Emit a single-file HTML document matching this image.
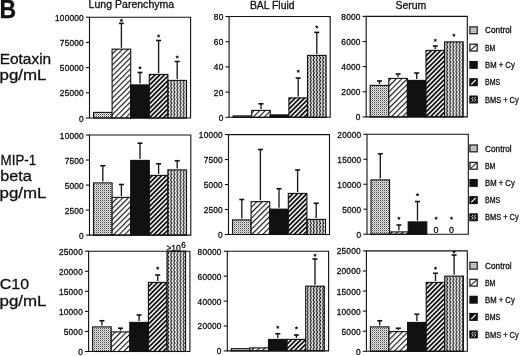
<!DOCTYPE html><html><head><meta charset="utf-8"><style>html,body{margin:0;padding:0;background:#fff;}body{width:520px;height:356px;overflow:hidden;}svg{display:block;filter:grayscale(1);}text{font-family:"Liberation Sans", sans-serif;fill:#111;stroke:#111;stroke-width:0.3px;}</style></head><body>
<svg width="520" height="356" viewBox="0 0 520 356">
<defs>
<pattern id="pc" patternUnits="userSpaceOnUse" width="2" height="2"><rect width="2" height="2" fill="#e8e8e8"/><rect x="0" y="0" width="1" height="1" fill="#444"/><rect x="1" y="1" width="1" height="1" fill="#aaa"/></pattern>
<pattern id="pbm" patternUnits="userSpaceOnUse" width="3.9" height="10" patternTransform="rotate(45)"><rect width="3.9" height="10" fill="#fff"/><rect x="0" y="0" width="1.1" height="10" fill="#111"/></pattern>
<pattern id="pbms" patternUnits="userSpaceOnUse" width="3.3" height="10" patternTransform="rotate(45)"><rect width="3.3" height="10" fill="#fff"/><rect x="0" y="0" width="1.8" height="10" fill="#111"/></pattern>
<pattern id="pz" patternUnits="userSpaceOnUse" width="3.1" height="3.75"><rect width="3.1" height="3.75" fill="#fff"/><path d="M-0.2,-0.1 L1.5,1.875 L-0.2,3.85 M2.9,-0.1 L4.6,1.875 L2.9,3.85" stroke="#111" stroke-width="1.1" fill="none"/></pattern>
</defs>
<text x="-0.4" y="18" font-size="25" font-weight="bold" textLength="16.6" lengthAdjust="spacingAndGlyphs">B</text>
<text x="88.6" y="7.9" font-size="10.4" textLength="85.6" lengthAdjust="spacingAndGlyphs">Lung Parenchyma</text>
<text x="249.9" y="8.6" font-size="10.4" textLength="44.6" lengthAdjust="spacingAndGlyphs">BAL Fluid</text>
<text x="395.4" y="8.9" font-size="10.6" textLength="30.9" lengthAdjust="spacingAndGlyphs">Serum</text>
<text x="-0.3" y="63.6" font-size="15.2" textLength="51.5" lengthAdjust="spacingAndGlyphs">Eotaxin</text>
<text x="-0.5" y="79.8" font-size="15.2" textLength="47.0" lengthAdjust="spacingAndGlyphs">pg/mL</text>
<text x="0.6" y="165.1" font-size="15.2" textLength="35.6" lengthAdjust="spacingAndGlyphs">MIP-1</text>
<text x="0.2" y="181.0" font-size="15.2" textLength="31.5" lengthAdjust="spacingAndGlyphs">beta</text>
<text x="-0.5" y="198.0" font-size="15.2" textLength="47.0" lengthAdjust="spacingAndGlyphs">pg/mL</text>
<text x="-0.2" y="288.7" font-size="15.2" textLength="29.3" lengthAdjust="spacingAndGlyphs">C10</text>
<text x="-0.5" y="305.5" font-size="15.2" textLength="47.0" lengthAdjust="spacingAndGlyphs">pg/mL</text>
<rect x="93.50" y="112.40" width="18.60" height="5.60" fill="url(#pc)" stroke="#111" stroke-width="1.1"/>
<rect x="112.10" y="49.15" width="18.60" height="68.85" fill="url(#pbm)" stroke="#111" stroke-width="1.1"/>
<line x1="121.40" y1="47.85" x2="121.40" y2="23.40" stroke="#1a1a1a" stroke-width="1.35"/>
<line x1="118.90" y1="23.40" x2="123.90" y2="23.40" stroke="#111" stroke-width="1.6"/>
<path d="M121.40,18.40 L121.99,19.59 L123.30,19.78 L122.35,20.71 L122.58,22.02 L121.40,21.40 L120.22,22.02 L120.45,20.71 L119.50,19.78 L120.81,19.59Z" fill="#111"/>
<rect x="130.70" y="84.90" width="18.60" height="33.10" fill="#111" stroke="#111" stroke-width="1.1"/>
<line x1="140.00" y1="83.60" x2="140.00" y2="72.50" stroke="#1a1a1a" stroke-width="1.35"/>
<line x1="137.50" y1="72.50" x2="142.50" y2="72.50" stroke="#111" stroke-width="1.6"/>
<path d="M140.00,65.70 L140.59,66.89 L141.90,67.08 L140.95,68.01 L141.18,69.32 L140.00,68.70 L138.82,69.32 L139.05,68.01 L138.10,67.08 L139.41,66.89Z" fill="#111"/>
<rect x="149.30" y="74.40" width="18.60" height="43.60" fill="url(#pbms)" stroke="#111" stroke-width="1.1"/>
<line x1="158.60" y1="73.10" x2="158.60" y2="40.50" stroke="#1a1a1a" stroke-width="1.35"/>
<line x1="156.10" y1="40.50" x2="161.10" y2="40.50" stroke="#111" stroke-width="1.6"/>
<path d="M158.60,34.00 L159.19,35.19 L160.50,35.38 L159.55,36.31 L159.78,37.62 L158.60,37.00 L157.42,37.62 L157.65,36.31 L156.70,35.38 L158.01,35.19Z" fill="#111"/>
<rect x="167.90" y="80.40" width="18.60" height="37.60" fill="url(#pz)" stroke="#111" stroke-width="1.1"/>
<line x1="177.20" y1="79.10" x2="177.20" y2="61.50" stroke="#1a1a1a" stroke-width="1.35"/>
<line x1="174.70" y1="61.50" x2="179.70" y2="61.50" stroke="#111" stroke-width="1.6"/>
<path d="M177.20,55.00 L177.79,56.19 L179.10,56.38 L178.15,57.31 L178.38,58.62 L177.20,58.00 L176.02,58.62 L176.25,57.31 L175.30,56.38 L176.61,56.19Z" fill="#111"/>
<path d="M89.50,17.20 L190.60,17.20 L190.60,118.00 L89.50,118.00 Z" fill="none" stroke="#111" stroke-width="1.1"/>
<line x1="85.90" y1="17.20" x2="89.50" y2="17.20" stroke="#111" stroke-width="1.1"/>
<text x="83.90" y="20.70" font-size="8.3" text-anchor="end" letter-spacing="0.2">100000</text>
<line x1="85.90" y1="42.40" x2="89.50" y2="42.40" stroke="#111" stroke-width="1.1"/>
<text x="83.90" y="45.90" font-size="8.3" text-anchor="end" letter-spacing="0.2">75000</text>
<line x1="85.90" y1="67.60" x2="89.50" y2="67.60" stroke="#111" stroke-width="1.1"/>
<text x="83.90" y="71.10" font-size="8.3" text-anchor="end" letter-spacing="0.2">50000</text>
<line x1="85.90" y1="92.80" x2="89.50" y2="92.80" stroke="#111" stroke-width="1.1"/>
<text x="83.90" y="96.30" font-size="8.3" text-anchor="end" letter-spacing="0.2">25000</text>
<line x1="85.90" y1="118.00" x2="89.50" y2="118.00" stroke="#111" stroke-width="1.1"/>
<text x="83.90" y="121.50" font-size="8.3" text-anchor="end" letter-spacing="0.2">0</text>
<rect x="233.10" y="115.90" width="18.60" height="1.40" fill="url(#pc)" stroke="#111" stroke-width="1.1"/>
<rect x="251.70" y="110.40" width="18.60" height="6.90" fill="url(#pbm)" stroke="#111" stroke-width="1.1"/>
<line x1="261.00" y1="109.10" x2="261.00" y2="103.80" stroke="#1a1a1a" stroke-width="1.35"/>
<line x1="258.50" y1="103.80" x2="263.50" y2="103.80" stroke="#111" stroke-width="1.6"/>
<rect x="270.30" y="114.90" width="18.60" height="2.40" fill="#111" stroke="#111" stroke-width="1.1"/>
<rect x="288.90" y="97.90" width="18.60" height="19.40" fill="url(#pbms)" stroke="#111" stroke-width="1.1"/>
<line x1="298.20" y1="96.60" x2="298.20" y2="78.00" stroke="#1a1a1a" stroke-width="1.35"/>
<line x1="295.70" y1="78.00" x2="300.70" y2="78.00" stroke="#111" stroke-width="1.6"/>
<path d="M298.20,69.20 L298.79,70.39 L300.10,70.58 L299.15,71.51 L299.38,72.82 L298.20,72.20 L297.02,72.82 L297.25,71.51 L296.30,70.58 L297.61,70.39Z" fill="#111"/>
<rect x="307.50" y="55.40" width="18.60" height="61.90" fill="url(#pz)" stroke="#111" stroke-width="1.1"/>
<line x1="316.80" y1="54.10" x2="316.80" y2="32.40" stroke="#1a1a1a" stroke-width="1.35"/>
<line x1="314.30" y1="32.40" x2="319.30" y2="32.40" stroke="#111" stroke-width="1.6"/>
<path d="M316.80,25.00 L317.39,26.19 L318.70,26.38 L317.75,27.31 L317.98,28.62 L316.80,28.00 L315.62,28.62 L315.85,27.31 L314.90,26.38 L316.21,26.19Z" fill="#111"/>
<path d="M229.10,16.50 L330.20,16.50 L330.20,117.30 L229.10,117.30 Z" fill="none" stroke="#111" stroke-width="1.1"/>
<line x1="225.50" y1="16.50" x2="229.10" y2="16.50" stroke="#111" stroke-width="1.1"/>
<text x="223.50" y="20.00" font-size="8.3" text-anchor="end" letter-spacing="0.2">80</text>
<line x1="225.50" y1="41.70" x2="229.10" y2="41.70" stroke="#111" stroke-width="1.1"/>
<text x="223.50" y="45.20" font-size="8.3" text-anchor="end" letter-spacing="0.2">60</text>
<line x1="225.50" y1="66.90" x2="229.10" y2="66.90" stroke="#111" stroke-width="1.1"/>
<text x="223.50" y="70.40" font-size="8.3" text-anchor="end" letter-spacing="0.2">40</text>
<line x1="225.50" y1="92.10" x2="229.10" y2="92.10" stroke="#111" stroke-width="1.1"/>
<text x="223.50" y="95.60" font-size="8.3" text-anchor="end" letter-spacing="0.2">20</text>
<line x1="225.50" y1="117.30" x2="229.10" y2="117.30" stroke="#111" stroke-width="1.1"/>
<text x="223.50" y="120.80" font-size="8.3" text-anchor="end" letter-spacing="0.2">0</text>
<rect x="370.20" y="85.40" width="18.60" height="31.50" fill="url(#pc)" stroke="#111" stroke-width="1.1"/>
<line x1="379.50" y1="84.10" x2="379.50" y2="81.00" stroke="#1a1a1a" stroke-width="1.35"/>
<line x1="377.00" y1="81.00" x2="382.00" y2="81.00" stroke="#111" stroke-width="1.6"/>
<rect x="388.80" y="78.40" width="18.60" height="38.50" fill="url(#pbm)" stroke="#111" stroke-width="1.1"/>
<line x1="398.10" y1="77.10" x2="398.10" y2="74.00" stroke="#1a1a1a" stroke-width="1.35"/>
<line x1="395.60" y1="74.00" x2="400.60" y2="74.00" stroke="#111" stroke-width="1.6"/>
<rect x="407.40" y="80.40" width="18.60" height="36.50" fill="#111" stroke="#111" stroke-width="1.1"/>
<line x1="416.70" y1="79.10" x2="416.70" y2="73.00" stroke="#1a1a1a" stroke-width="1.35"/>
<line x1="414.20" y1="73.00" x2="419.20" y2="73.00" stroke="#111" stroke-width="1.6"/>
<rect x="426.00" y="50.40" width="18.60" height="66.50" fill="url(#pbms)" stroke="#111" stroke-width="1.1"/>
<line x1="435.30" y1="49.10" x2="435.30" y2="46.00" stroke="#1a1a1a" stroke-width="1.35"/>
<line x1="432.80" y1="46.00" x2="437.80" y2="46.00" stroke="#111" stroke-width="1.6"/>
<path d="M435.30,38.20 L435.89,39.39 L437.20,39.58 L436.25,40.51 L436.48,41.82 L435.30,41.20 L434.12,41.82 L434.35,40.51 L433.40,39.58 L434.71,39.39Z" fill="#111"/>
<rect x="444.60" y="41.90" width="18.60" height="75.00" fill="url(#pz)" stroke="#111" stroke-width="1.1"/>
<path d="M453.90,33.20 L454.49,34.39 L455.80,34.58 L454.85,35.51 L455.08,36.82 L453.90,36.20 L452.72,36.82 L452.95,35.51 L452.00,34.58 L453.31,34.39Z" fill="#111"/>
<path d="M366.20,16.40 L467.30,16.40 L467.30,116.90 L366.20,116.90 Z" fill="none" stroke="#111" stroke-width="1.1"/>
<line x1="362.60" y1="16.40" x2="366.20" y2="16.40" stroke="#111" stroke-width="1.1"/>
<text x="360.60" y="19.90" font-size="8.3" text-anchor="end" letter-spacing="0.2">8000</text>
<line x1="362.60" y1="41.52" x2="366.20" y2="41.52" stroke="#111" stroke-width="1.1"/>
<text x="360.60" y="45.02" font-size="8.3" text-anchor="end" letter-spacing="0.2">6000</text>
<line x1="362.60" y1="66.65" x2="366.20" y2="66.65" stroke="#111" stroke-width="1.1"/>
<text x="360.60" y="70.15" font-size="8.3" text-anchor="end" letter-spacing="0.2">4000</text>
<line x1="362.60" y1="91.78" x2="366.20" y2="91.78" stroke="#111" stroke-width="1.1"/>
<text x="360.60" y="95.28" font-size="8.3" text-anchor="end" letter-spacing="0.2">2000</text>
<line x1="362.60" y1="116.90" x2="366.20" y2="116.90" stroke="#111" stroke-width="1.1"/>
<text x="360.60" y="120.40" font-size="8.3" text-anchor="end" letter-spacing="0.2">0</text>
<rect x="93.50" y="182.90" width="18.60" height="52.20" fill="url(#pc)" stroke="#111" stroke-width="1.1"/>
<line x1="102.80" y1="181.60" x2="102.80" y2="165.75" stroke="#1a1a1a" stroke-width="1.35"/>
<line x1="100.30" y1="165.75" x2="105.30" y2="165.75" stroke="#111" stroke-width="1.6"/>
<rect x="112.10" y="197.40" width="18.60" height="37.70" fill="url(#pbm)" stroke="#111" stroke-width="1.1"/>
<line x1="121.40" y1="196.10" x2="121.40" y2="184.50" stroke="#1a1a1a" stroke-width="1.35"/>
<line x1="118.90" y1="184.50" x2="123.90" y2="184.50" stroke="#111" stroke-width="1.6"/>
<rect x="130.70" y="160.40" width="18.60" height="74.70" fill="#111" stroke="#111" stroke-width="1.1"/>
<line x1="140.00" y1="159.10" x2="140.00" y2="143.25" stroke="#1a1a1a" stroke-width="1.35"/>
<line x1="137.50" y1="143.25" x2="142.50" y2="143.25" stroke="#111" stroke-width="1.6"/>
<rect x="149.30" y="175.40" width="18.60" height="59.70" fill="url(#pbms)" stroke="#111" stroke-width="1.1"/>
<line x1="158.60" y1="174.10" x2="158.60" y2="163.75" stroke="#1a1a1a" stroke-width="1.35"/>
<line x1="156.10" y1="163.75" x2="161.10" y2="163.75" stroke="#111" stroke-width="1.6"/>
<rect x="167.90" y="169.90" width="18.60" height="65.20" fill="url(#pz)" stroke="#111" stroke-width="1.1"/>
<line x1="177.20" y1="168.60" x2="177.20" y2="160.75" stroke="#1a1a1a" stroke-width="1.35"/>
<line x1="174.70" y1="160.75" x2="179.70" y2="160.75" stroke="#111" stroke-width="1.6"/>
<path d="M89.50,135.00 L190.80,135.00 L190.80,235.10 L89.50,235.10 Z" fill="none" stroke="#111" stroke-width="1.1"/>
<line x1="85.90" y1="135.00" x2="89.50" y2="135.00" stroke="#111" stroke-width="1.1"/>
<text x="83.90" y="138.50" font-size="8.3" text-anchor="end" letter-spacing="0.2">10000</text>
<line x1="85.90" y1="160.03" x2="89.50" y2="160.03" stroke="#111" stroke-width="1.1"/>
<text x="83.90" y="163.53" font-size="8.3" text-anchor="end" letter-spacing="0.2">7500</text>
<line x1="85.90" y1="185.05" x2="89.50" y2="185.05" stroke="#111" stroke-width="1.1"/>
<text x="83.90" y="188.55" font-size="8.3" text-anchor="end" letter-spacing="0.2">5000</text>
<line x1="85.90" y1="210.07" x2="89.50" y2="210.07" stroke="#111" stroke-width="1.1"/>
<text x="83.90" y="213.57" font-size="8.3" text-anchor="end" letter-spacing="0.2">2500</text>
<line x1="85.90" y1="235.10" x2="89.50" y2="235.10" stroke="#111" stroke-width="1.1"/>
<text x="83.90" y="238.60" font-size="8.3" text-anchor="end" letter-spacing="0.2">0</text>
<rect x="232.50" y="219.90" width="18.60" height="14.60" fill="url(#pc)" stroke="#111" stroke-width="1.1"/>
<line x1="241.80" y1="218.60" x2="241.80" y2="199.50" stroke="#1a1a1a" stroke-width="1.35"/>
<line x1="239.30" y1="199.50" x2="244.30" y2="199.50" stroke="#111" stroke-width="1.6"/>
<rect x="251.10" y="201.65" width="18.60" height="32.85" fill="url(#pbm)" stroke="#111" stroke-width="1.1"/>
<line x1="260.40" y1="200.35" x2="260.40" y2="149.50" stroke="#1a1a1a" stroke-width="1.35"/>
<line x1="257.90" y1="149.50" x2="262.90" y2="149.50" stroke="#111" stroke-width="1.6"/>
<rect x="269.70" y="209.15" width="18.60" height="25.35" fill="#111" stroke="#111" stroke-width="1.1"/>
<line x1="279.00" y1="207.85" x2="279.00" y2="188.75" stroke="#1a1a1a" stroke-width="1.35"/>
<line x1="276.50" y1="188.75" x2="281.50" y2="188.75" stroke="#111" stroke-width="1.6"/>
<rect x="288.30" y="193.40" width="18.60" height="41.10" fill="url(#pbms)" stroke="#111" stroke-width="1.1"/>
<line x1="297.60" y1="192.10" x2="297.60" y2="170.00" stroke="#1a1a1a" stroke-width="1.35"/>
<line x1="295.10" y1="170.00" x2="300.10" y2="170.00" stroke="#111" stroke-width="1.6"/>
<rect x="306.90" y="219.40" width="18.60" height="15.10" fill="url(#pz)" stroke="#111" stroke-width="1.1"/>
<line x1="316.20" y1="218.10" x2="316.20" y2="203.25" stroke="#1a1a1a" stroke-width="1.35"/>
<line x1="313.70" y1="203.25" x2="318.70" y2="203.25" stroke="#111" stroke-width="1.6"/>
<path d="M228.50,134.60 L329.50,134.60 L329.50,234.50 L228.50,234.50 Z" fill="none" stroke="#111" stroke-width="1.1"/>
<line x1="224.90" y1="134.60" x2="228.50" y2="134.60" stroke="#111" stroke-width="1.1"/>
<text x="222.90" y="138.10" font-size="8.3" text-anchor="end" letter-spacing="0.2">10000</text>
<line x1="224.90" y1="159.57" x2="228.50" y2="159.57" stroke="#111" stroke-width="1.1"/>
<text x="222.90" y="163.07" font-size="8.3" text-anchor="end" letter-spacing="0.2">7500</text>
<line x1="224.90" y1="184.55" x2="228.50" y2="184.55" stroke="#111" stroke-width="1.1"/>
<text x="222.90" y="188.05" font-size="8.3" text-anchor="end" letter-spacing="0.2">5000</text>
<line x1="224.90" y1="209.53" x2="228.50" y2="209.53" stroke="#111" stroke-width="1.1"/>
<text x="222.90" y="213.03" font-size="8.3" text-anchor="end" letter-spacing="0.2">2500</text>
<line x1="224.90" y1="234.50" x2="228.50" y2="234.50" stroke="#111" stroke-width="1.1"/>
<text x="222.90" y="238.00" font-size="8.3" text-anchor="end" letter-spacing="0.2">0</text>
<rect x="371.00" y="179.90" width="18.60" height="54.30" fill="url(#pc)" stroke="#111" stroke-width="1.1"/>
<line x1="380.30" y1="178.60" x2="380.30" y2="153.75" stroke="#1a1a1a" stroke-width="1.35"/>
<line x1="377.80" y1="153.75" x2="382.80" y2="153.75" stroke="#111" stroke-width="1.6"/>
<rect x="389.60" y="231.90" width="18.60" height="2.30" fill="url(#pbm)" stroke="#111" stroke-width="1.1"/>
<line x1="398.90" y1="230.60" x2="398.90" y2="225.00" stroke="#1a1a1a" stroke-width="1.35"/>
<line x1="396.40" y1="225.00" x2="401.40" y2="225.00" stroke="#111" stroke-width="1.6"/>
<path d="M398.90,216.20 L399.49,217.39 L400.80,217.58 L399.85,218.51 L400.08,219.82 L398.90,219.20 L397.72,219.82 L397.95,218.51 L397.00,217.58 L398.31,217.39Z" fill="#111"/>
<rect x="408.20" y="221.90" width="18.60" height="12.30" fill="#111" stroke="#111" stroke-width="1.1"/>
<line x1="417.50" y1="220.60" x2="417.50" y2="201.50" stroke="#1a1a1a" stroke-width="1.35"/>
<line x1="415.00" y1="201.50" x2="420.00" y2="201.50" stroke="#111" stroke-width="1.6"/>
<path d="M417.50,192.70 L418.09,193.89 L419.40,194.08 L418.45,195.01 L418.68,196.32 L417.50,195.70 L416.32,196.32 L416.55,195.01 L415.60,194.08 L416.91,193.89Z" fill="#111"/>
<path d="M436.10,216.20 L436.69,217.39 L438.00,217.58 L437.05,218.51 L437.28,219.82 L436.10,219.20 L434.92,219.82 L435.15,218.51 L434.20,217.58 L435.51,217.39Z" fill="#111"/>
<text x="436.10" y="232.6" font-size="9" text-anchor="middle">0</text>
<path d="M451.50,216.20 L452.09,217.39 L453.40,217.58 L452.45,218.51 L452.68,219.82 L451.50,219.20 L450.32,219.82 L450.55,218.51 L449.60,217.58 L450.91,217.39Z" fill="#111"/>
<text x="451.50" y="232.6" font-size="9" text-anchor="middle">0</text>
<path d="M367.00,134.30 L468.30,134.30 L468.30,234.20 L367.00,234.20 Z" fill="none" stroke="#111" stroke-width="1.1"/>
<line x1="363.40" y1="134.30" x2="367.00" y2="134.30" stroke="#111" stroke-width="1.1"/>
<text x="361.40" y="137.80" font-size="8.3" text-anchor="end" letter-spacing="0.2">20000</text>
<line x1="363.40" y1="159.28" x2="367.00" y2="159.28" stroke="#111" stroke-width="1.1"/>
<text x="361.40" y="162.78" font-size="8.3" text-anchor="end" letter-spacing="0.2">15000</text>
<line x1="363.40" y1="184.25" x2="367.00" y2="184.25" stroke="#111" stroke-width="1.1"/>
<text x="361.40" y="187.75" font-size="8.3" text-anchor="end" letter-spacing="0.2">10000</text>
<line x1="363.40" y1="209.22" x2="367.00" y2="209.22" stroke="#111" stroke-width="1.1"/>
<text x="361.40" y="212.72" font-size="8.3" text-anchor="end" letter-spacing="0.2">5000</text>
<line x1="363.40" y1="234.20" x2="367.00" y2="234.20" stroke="#111" stroke-width="1.1"/>
<text x="361.40" y="237.70" font-size="8.3" text-anchor="end" letter-spacing="0.2">0</text>
<rect x="92.60" y="326.90" width="18.60" height="24.60" fill="url(#pc)" stroke="#111" stroke-width="1.1"/>
<line x1="101.90" y1="325.60" x2="101.90" y2="320.75" stroke="#1a1a1a" stroke-width="1.35"/>
<line x1="99.40" y1="320.75" x2="104.40" y2="320.75" stroke="#111" stroke-width="1.6"/>
<rect x="111.20" y="331.90" width="18.60" height="19.60" fill="url(#pbm)" stroke="#111" stroke-width="1.1"/>
<line x1="120.50" y1="330.60" x2="120.50" y2="328.25" stroke="#1a1a1a" stroke-width="1.35"/>
<line x1="118.00" y1="328.25" x2="123.00" y2="328.25" stroke="#111" stroke-width="1.6"/>
<rect x="129.80" y="322.40" width="18.60" height="29.10" fill="#111" stroke="#111" stroke-width="1.1"/>
<line x1="139.10" y1="321.10" x2="139.10" y2="315.00" stroke="#1a1a1a" stroke-width="1.35"/>
<line x1="136.60" y1="315.00" x2="141.60" y2="315.00" stroke="#111" stroke-width="1.6"/>
<rect x="148.40" y="282.40" width="18.60" height="69.10" fill="url(#pbms)" stroke="#111" stroke-width="1.1"/>
<line x1="157.70" y1="281.10" x2="157.70" y2="275.00" stroke="#1a1a1a" stroke-width="1.35"/>
<line x1="155.20" y1="275.00" x2="160.20" y2="275.00" stroke="#111" stroke-width="1.6"/>
<path d="M157.70,266.20 L158.29,267.39 L159.60,267.58 L158.65,268.51 L158.88,269.82 L157.70,269.20 L156.52,269.82 L156.75,268.51 L155.80,267.58 L157.11,267.39Z" fill="#111"/>
<rect x="167.00" y="251.20" width="18.60" height="100.30" fill="url(#pz)" stroke="#111" stroke-width="1.1"/>
<path d="M88.60,251.20 L189.90,251.20 L189.90,351.50 L88.60,351.50 Z" fill="none" stroke="#111" stroke-width="1.1"/>
<line x1="85.00" y1="251.20" x2="88.60" y2="251.20" stroke="#111" stroke-width="1.1"/>
<text x="83.00" y="254.70" font-size="8.3" text-anchor="end" letter-spacing="0.2">25000</text>
<line x1="85.00" y1="271.26" x2="88.60" y2="271.26" stroke="#111" stroke-width="1.1"/>
<text x="83.00" y="274.76" font-size="8.3" text-anchor="end" letter-spacing="0.2">20000</text>
<line x1="85.00" y1="291.32" x2="88.60" y2="291.32" stroke="#111" stroke-width="1.1"/>
<text x="83.00" y="294.82" font-size="8.3" text-anchor="end" letter-spacing="0.2">15000</text>
<line x1="85.00" y1="311.38" x2="88.60" y2="311.38" stroke="#111" stroke-width="1.1"/>
<text x="83.00" y="314.88" font-size="8.3" text-anchor="end" letter-spacing="0.2">10000</text>
<line x1="85.00" y1="331.44" x2="88.60" y2="331.44" stroke="#111" stroke-width="1.1"/>
<text x="83.00" y="334.94" font-size="8.3" text-anchor="end" letter-spacing="0.2">5000</text>
<line x1="85.00" y1="351.50" x2="88.60" y2="351.50" stroke="#111" stroke-width="1.1"/>
<text x="83.00" y="355.00" font-size="8.3" text-anchor="end" letter-spacing="0.2">0</text>
<text x="166.4" y="250.6" font-size="8.5">&gt;10</text>
<text x="181.2" y="248.4" font-size="8.2">6</text>
<rect x="231.30" y="348.65" width="18.60" height="2.25" fill="url(#pc)" stroke="#111" stroke-width="1.1"/>
<rect x="249.90" y="347.90" width="18.60" height="3.00" fill="url(#pbm)" stroke="#111" stroke-width="1.1"/>
<rect x="268.50" y="339.40" width="18.60" height="11.50" fill="#111" stroke="#111" stroke-width="1.1"/>
<line x1="277.80" y1="338.10" x2="277.80" y2="333.75" stroke="#1a1a1a" stroke-width="1.35"/>
<line x1="275.30" y1="333.75" x2="280.30" y2="333.75" stroke="#111" stroke-width="1.6"/>
<path d="M277.80,325.20 L278.39,326.39 L279.70,326.58 L278.75,327.51 L278.98,328.82 L277.80,328.20 L276.62,328.82 L276.85,327.51 L275.90,326.58 L277.21,326.39Z" fill="#111"/>
<rect x="287.10" y="339.40" width="18.60" height="11.50" fill="url(#pbms)" stroke="#111" stroke-width="1.1"/>
<line x1="296.40" y1="338.10" x2="296.40" y2="335.00" stroke="#1a1a1a" stroke-width="1.35"/>
<line x1="293.90" y1="335.00" x2="298.90" y2="335.00" stroke="#111" stroke-width="1.6"/>
<path d="M296.40,325.95 L296.99,327.14 L298.30,327.33 L297.35,328.26 L297.58,329.57 L296.40,328.95 L295.22,329.57 L295.45,328.26 L294.50,327.33 L295.81,327.14Z" fill="#111"/>
<rect x="305.70" y="286.15" width="18.60" height="64.75" fill="url(#pz)" stroke="#111" stroke-width="1.1"/>
<line x1="315.00" y1="284.85" x2="315.00" y2="259.00" stroke="#1a1a1a" stroke-width="1.35"/>
<line x1="312.50" y1="259.00" x2="317.50" y2="259.00" stroke="#111" stroke-width="1.6"/>
<path d="M315.00,253.20 L315.59,254.39 L316.90,254.58 L315.95,255.51 L316.18,256.82 L315.00,256.20 L313.82,256.82 L314.05,255.51 L313.10,254.58 L314.41,254.39Z" fill="#111"/>
<path d="M227.30,251.20 L328.60,251.20 L328.60,350.90 L227.30,350.90 Z" fill="none" stroke="#111" stroke-width="1.1"/>
<line x1="223.70" y1="251.20" x2="227.30" y2="251.20" stroke="#111" stroke-width="1.1"/>
<text x="221.70" y="254.70" font-size="8.3" text-anchor="end" letter-spacing="0.2">80000</text>
<line x1="223.70" y1="276.12" x2="227.30" y2="276.12" stroke="#111" stroke-width="1.1"/>
<text x="221.70" y="279.62" font-size="8.3" text-anchor="end" letter-spacing="0.2">60000</text>
<line x1="223.70" y1="301.05" x2="227.30" y2="301.05" stroke="#111" stroke-width="1.1"/>
<text x="221.70" y="304.55" font-size="8.3" text-anchor="end" letter-spacing="0.2">40000</text>
<line x1="223.70" y1="325.97" x2="227.30" y2="325.97" stroke="#111" stroke-width="1.1"/>
<text x="221.70" y="329.47" font-size="8.3" text-anchor="end" letter-spacing="0.2">20000</text>
<line x1="223.70" y1="350.90" x2="227.30" y2="350.90" stroke="#111" stroke-width="1.1"/>
<text x="221.70" y="354.40" font-size="8.3" text-anchor="end" letter-spacing="0.2">0</text>
<rect x="370.40" y="326.90" width="18.60" height="24.40" fill="url(#pc)" stroke="#111" stroke-width="1.1"/>
<line x1="379.70" y1="325.60" x2="379.70" y2="320.75" stroke="#1a1a1a" stroke-width="1.35"/>
<line x1="377.20" y1="320.75" x2="382.20" y2="320.75" stroke="#111" stroke-width="1.6"/>
<rect x="389.00" y="331.65" width="18.60" height="19.65" fill="url(#pbm)" stroke="#111" stroke-width="1.1"/>
<line x1="398.30" y1="330.35" x2="398.30" y2="328.25" stroke="#1a1a1a" stroke-width="1.35"/>
<line x1="395.80" y1="328.25" x2="400.80" y2="328.25" stroke="#111" stroke-width="1.6"/>
<rect x="407.60" y="322.40" width="18.60" height="28.90" fill="#111" stroke="#111" stroke-width="1.1"/>
<line x1="416.90" y1="321.10" x2="416.90" y2="314.25" stroke="#1a1a1a" stroke-width="1.35"/>
<line x1="414.40" y1="314.25" x2="419.40" y2="314.25" stroke="#111" stroke-width="1.6"/>
<rect x="426.20" y="282.40" width="18.60" height="68.90" fill="url(#pbms)" stroke="#111" stroke-width="1.1"/>
<line x1="435.50" y1="281.10" x2="435.50" y2="273.25" stroke="#1a1a1a" stroke-width="1.35"/>
<line x1="433.00" y1="273.25" x2="438.00" y2="273.25" stroke="#111" stroke-width="1.6"/>
<path d="M435.50,266.20 L436.09,267.39 L437.40,267.58 L436.45,268.51 L436.68,269.82 L435.50,269.20 L434.32,269.82 L434.55,268.51 L433.60,267.58 L434.91,267.39Z" fill="#111"/>
<rect x="444.80" y="276.15" width="18.60" height="75.15" fill="url(#pz)" stroke="#111" stroke-width="1.1"/>
<line x1="454.10" y1="274.85" x2="454.10" y2="255.00" stroke="#1a1a1a" stroke-width="1.35"/>
<line x1="451.60" y1="255.00" x2="456.60" y2="255.00" stroke="#111" stroke-width="1.6"/>
<path d="M454.10,249.95 L454.69,251.14 L456.00,251.33 L455.05,252.26 L455.28,253.57 L454.10,252.95 L452.92,253.57 L453.15,252.26 L452.20,251.33 L453.51,251.14Z" fill="#111"/>
<path d="M366.40,250.90 L467.30,250.90 L467.30,351.30 L366.40,351.30 Z" fill="none" stroke="#111" stroke-width="1.1"/>
<line x1="362.80" y1="250.90" x2="366.40" y2="250.90" stroke="#111" stroke-width="1.1"/>
<text x="360.80" y="254.40" font-size="8.3" text-anchor="end" letter-spacing="0.2">25000</text>
<line x1="362.80" y1="270.98" x2="366.40" y2="270.98" stroke="#111" stroke-width="1.1"/>
<text x="360.80" y="274.48" font-size="8.3" text-anchor="end" letter-spacing="0.2">20000</text>
<line x1="362.80" y1="291.06" x2="366.40" y2="291.06" stroke="#111" stroke-width="1.1"/>
<text x="360.80" y="294.56" font-size="8.3" text-anchor="end" letter-spacing="0.2">15000</text>
<line x1="362.80" y1="311.14" x2="366.40" y2="311.14" stroke="#111" stroke-width="1.1"/>
<text x="360.80" y="314.64" font-size="8.3" text-anchor="end" letter-spacing="0.2">10000</text>
<line x1="362.80" y1="331.22" x2="366.40" y2="331.22" stroke="#111" stroke-width="1.1"/>
<text x="360.80" y="334.72" font-size="8.3" text-anchor="end" letter-spacing="0.2">5000</text>
<line x1="362.80" y1="351.30" x2="366.40" y2="351.30" stroke="#111" stroke-width="1.1"/>
<text x="360.80" y="354.80" font-size="8.3" text-anchor="end" letter-spacing="0.2">0</text>
<rect x="469.90" y="26.90" width="7.30" height="6.80" fill="#cfcfcf" stroke="#222" stroke-width="1.3"/>
<rect x="471.65" y="28.65" width="0.9" height="0.9" fill="#777"/>
<rect x="474.45" y="28.65" width="0.9" height="0.9" fill="#777"/>
<rect x="473.05" y="29.85" width="0.9" height="0.9" fill="#777"/>
<rect x="471.65" y="31.05" width="0.9" height="0.9" fill="#777"/>
<rect x="474.45" y="31.05" width="0.9" height="0.9" fill="#777"/>
<text x="485" y="33.40" font-size="8.6" textLength="26.6" lengthAdjust="spacingAndGlyphs">Control</text>
<rect x="469.90" y="44.20" width="7.30" height="6.80" fill="#fff" stroke="#222" stroke-width="1.3"/>
<line x1="470.70" y1="50.20" x2="476.40" y2="45.00" stroke="#222" stroke-width="1.1"/>
<text x="485" y="50.70" font-size="8.6" textLength="10.4" lengthAdjust="spacingAndGlyphs">BM</text>
<rect x="469.90" y="61.50" width="7.30" height="6.80" fill="#111" stroke="#111" stroke-width="1.1"/>
<text x="485" y="68.00" font-size="8.6" textLength="29.8" lengthAdjust="spacingAndGlyphs">BM + Cy</text>
<rect x="469.90" y="78.80" width="7.30" height="6.80" fill="#111" stroke="#111" stroke-width="1.2"/>
<line x1="471.30" y1="84.40" x2="475.60" y2="80.00" stroke="#fff" stroke-width="1.2"/>
<text x="485" y="85.30" font-size="8.6" textLength="15.2" lengthAdjust="spacingAndGlyphs">BMS</text>
<rect x="469.90" y="96.10" width="7.30" height="6.80" fill="#111" stroke="#111" stroke-width="1.2"/>
<path d="M473.20,97.00 l-1.5,1.6 l1.5,1.6 l-1.5,1.6 M475.80,97.00 l-1.5,1.6 l1.5,1.6 l-1.5,1.6" stroke="#eee" stroke-width="0.9" fill="none"/>
<text x="485" y="102.60" font-size="8.6" textLength="33.6" lengthAdjust="spacingAndGlyphs">BMS + Cy</text>
<rect x="469.90" y="145.00" width="7.30" height="6.80" fill="#cfcfcf" stroke="#222" stroke-width="1.3"/>
<rect x="471.65" y="146.75" width="0.9" height="0.9" fill="#777"/>
<rect x="474.45" y="146.75" width="0.9" height="0.9" fill="#777"/>
<rect x="473.05" y="147.95" width="0.9" height="0.9" fill="#777"/>
<rect x="471.65" y="149.15" width="0.9" height="0.9" fill="#777"/>
<rect x="474.45" y="149.15" width="0.9" height="0.9" fill="#777"/>
<text x="485" y="151.50" font-size="8.6" textLength="26.6" lengthAdjust="spacingAndGlyphs">Control</text>
<rect x="469.90" y="162.40" width="7.30" height="6.80" fill="#fff" stroke="#222" stroke-width="1.3"/>
<line x1="470.70" y1="168.40" x2="476.40" y2="163.20" stroke="#222" stroke-width="1.1"/>
<text x="485" y="168.90" font-size="8.6" textLength="10.4" lengthAdjust="spacingAndGlyphs">BM</text>
<rect x="469.90" y="179.50" width="7.30" height="6.80" fill="#111" stroke="#111" stroke-width="1.1"/>
<text x="485" y="186.00" font-size="8.6" textLength="29.8" lengthAdjust="spacingAndGlyphs">BM + Cy</text>
<rect x="469.90" y="196.70" width="7.30" height="6.80" fill="#111" stroke="#111" stroke-width="1.2"/>
<line x1="471.30" y1="202.30" x2="475.60" y2="197.90" stroke="#fff" stroke-width="1.2"/>
<text x="485" y="203.20" font-size="8.6" textLength="15.2" lengthAdjust="spacingAndGlyphs">BMS</text>
<rect x="469.90" y="213.90" width="7.30" height="6.80" fill="#111" stroke="#111" stroke-width="1.2"/>
<path d="M473.20,214.80 l-1.5,1.6 l1.5,1.6 l-1.5,1.6 M475.80,214.80 l-1.5,1.6 l1.5,1.6 l-1.5,1.6" stroke="#eee" stroke-width="0.9" fill="none"/>
<text x="485" y="220.40" font-size="8.6" textLength="33.6" lengthAdjust="spacingAndGlyphs">BMS + Cy</text>
<rect x="469.90" y="262.30" width="7.30" height="6.80" fill="#cfcfcf" stroke="#222" stroke-width="1.3"/>
<rect x="471.65" y="264.05" width="0.9" height="0.9" fill="#777"/>
<rect x="474.45" y="264.05" width="0.9" height="0.9" fill="#777"/>
<rect x="473.05" y="265.25" width="0.9" height="0.9" fill="#777"/>
<rect x="471.65" y="266.45" width="0.9" height="0.9" fill="#777"/>
<rect x="474.45" y="266.45" width="0.9" height="0.9" fill="#777"/>
<text x="485" y="268.80" font-size="8.6" textLength="26.6" lengthAdjust="spacingAndGlyphs">Control</text>
<rect x="469.90" y="279.30" width="7.30" height="6.80" fill="#fff" stroke="#222" stroke-width="1.3"/>
<line x1="470.70" y1="285.30" x2="476.40" y2="280.10" stroke="#222" stroke-width="1.1"/>
<text x="485" y="285.80" font-size="8.6" textLength="10.4" lengthAdjust="spacingAndGlyphs">BM</text>
<rect x="469.90" y="296.30" width="7.30" height="6.80" fill="#111" stroke="#111" stroke-width="1.1"/>
<text x="485" y="302.80" font-size="8.6" textLength="29.8" lengthAdjust="spacingAndGlyphs">BM + Cy</text>
<rect x="469.90" y="313.50" width="7.30" height="6.80" fill="#111" stroke="#111" stroke-width="1.2"/>
<line x1="471.30" y1="319.10" x2="475.60" y2="314.70" stroke="#fff" stroke-width="1.2"/>
<text x="485" y="320.00" font-size="8.6" textLength="15.2" lengthAdjust="spacingAndGlyphs">BMS</text>
<rect x="469.90" y="331.00" width="7.30" height="6.80" fill="#111" stroke="#111" stroke-width="1.2"/>
<path d="M473.20,331.90 l-1.5,1.6 l1.5,1.6 l-1.5,1.6 M475.80,331.90 l-1.5,1.6 l1.5,1.6 l-1.5,1.6" stroke="#eee" stroke-width="0.9" fill="none"/>
<text x="485" y="337.50" font-size="8.6" textLength="33.6" lengthAdjust="spacingAndGlyphs">BMS + Cy</text>
</svg></body></html>
